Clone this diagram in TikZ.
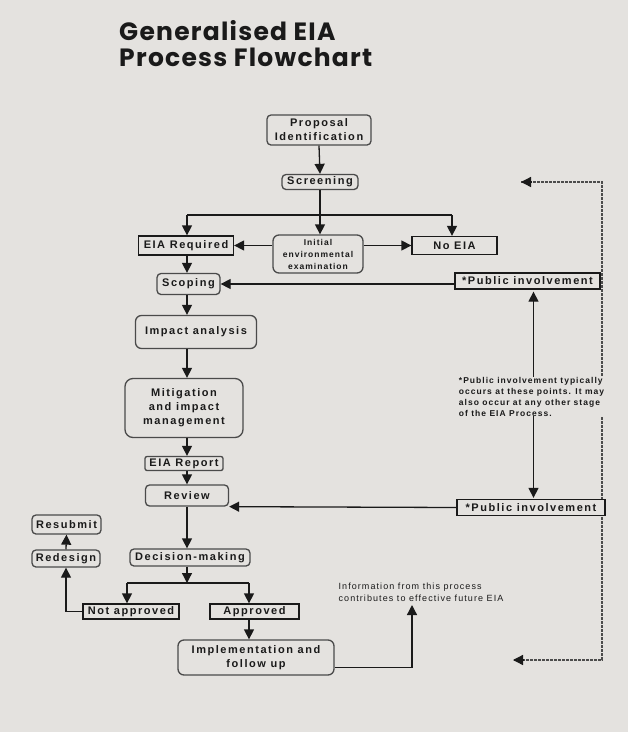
\documentclass[tikz,border=0pt]{standalone}
\usepackage{fontspec}
\usetikzlibrary{arrows.meta}
\newfontfamily\boxfont{Liberation Sans}[LetterSpace=14]
\newfontfamily\smallfont{Liberation Sans}[LetterSpace=12]
\newfontfamily\titlefont{Poppins}[LetterSpace=5]
\definecolor{bg}{HTML}{E4E2DF}
\definecolor{ink}{HTML}{1A1A1A}
\definecolor{rim}{HTML}{4A4A4A}
\tikzset{
  box/.style={draw=ink, line width=1.3pt, fill=bg, inner sep=0pt, align=center,
    font=\boxfont\bfseries\fontsize{11}{14}\selectfont, text=ink},
  rbox/.style={box, draw=rim, rounded corners=4pt},
  smalltext/.style={inner sep=0pt, align=left, text=ink, fill=bg},
  arr/.style={-{Triangle[length=10pt,width=10pt]}, line width=1.3pt, draw=ink},
  plain/.style={line width=1.3pt, draw=ink},
  dashline/.style={line width=1.3pt, draw=black!70, dash pattern=on 3pt off 1pt},
}
\begin{document}
\begin{tikzpicture}[x=1pt,y=-1pt]
\fill[bg] (0,0) rectangle (628,732);
\useasboundingbox (0,0) rectangle (628,732);

% title
\node[anchor=north west, inner sep=0pt, align=left, text=ink,
  font=\titlefont\bfseries\fontsize{25}{26}\selectfont] (title) at (119,20)
  {Generalised EIA\\Process Flowchart};

% dashed feedback line (drawn first, nodes cover it)
\coordinate (dtop) at (602,182);
\coordinate (dbot) at (602,660);
\coordinate (dtopend) at (521,182);
\coordinate (dbotend) at (513,660);
\draw[dashline] (dtopend) -- (dtop) -- (dbot) -- (dbotend);
\draw[arr] ([xshift=11pt]dtopend) -- (dtopend);
\draw[arr] ([xshift=11pt]dbotend) -- (dbotend);

% nodes
\node[rbox, minimum width=104pt, minimum height=30pt] (prop) at (319,130) {Proposal\\Identification};
\node[rbox, minimum width=76pt, minimum height=15pt] (scr) at (320,182) {Screening};
\node[box, minimum width=95pt, minimum height=19pt] (eiareq) at (186,245.5) {EIA Required};
\node[rbox, minimum width=90pt, minimum height=38pt, rounded corners=6pt,
  font=\smallfont\bfseries\fontsize{8.5}{12}\selectfont] (init) at (318,254) {Initial\\environmental\\examination};
\node[box, minimum width=85pt, minimum height=18pt] (noeia) at (454.5,245.5) {No EIA};
\node[rbox, minimum width=63pt, minimum height=21pt] (scoping) at (188.5,284) {Scoping};
\node[box, minimum width=145pt, minimum height=16pt] (pi1) at (527.5,281) {*Public involvement};
\node[rbox, minimum width=121pt, minimum height=33pt, rounded corners=6pt] (impact) at (196,332) {Impact analysis};
\node[rbox, minimum width=118pt, minimum height=59pt, rounded corners=8pt] (mit) at (184,408) {Mitigation\\and impact\\management};
\node[rbox, minimum width=78pt, minimum height=14pt, rounded corners=2pt] (report) at (184,463.5) {EIA Report};
\node[rbox, minimum width=83pt, minimum height=21pt] (review) at (187,495.5) {Review};
\node[box, minimum width=148pt, minimum height=16pt] (pi2) at (531,507.5) {*Public involvement};
\node[smalltext, font=\smallfont\bfseries\fontsize{8.5}{11}\selectfont] (pubtext) at (531.5,396.5)
  {*Public involvement typically\\occurs at these points. It may\\also occur at any other stage\\of the EIA Process.};
\node[rbox, minimum width=120pt, minimum height=17pt] (decision) at (190,557.5) {Decision-making};
\node[box, minimum width=96pt, minimum height=15pt] (notapp) at (131,611.5) {Not approved};
\node[box, minimum width=89pt, minimum height=15pt] (app) at (254.5,611.5) {Approved};
\node[rbox, minimum width=156pt, minimum height=35pt, rounded corners=6pt] (impl) at (256,657.5) {Implementation and\\follow up};
\node[rbox, minimum width=68pt, minimum height=17pt] (redesign) at (66,558.5) {Redesign};
\node[rbox, minimum width=69pt, minimum height=19pt] (resubmit) at (66.5,524.5) {Resubmit};
\node[smalltext, font=\smallfont\fontsize{9}{12}\selectfont] (info) at (421,592.5)
  {Information from this process\\contributes to effective future EIA};

% connectors
\draw[arr] (prop.south) -- (scr.north);
\coordinate (brL) at (187,215);
\coordinate (brR) at (452,215);
\draw[plain] (brL) -- (brR);
\draw[arr] (scr.south) -- (scr.south |- init.north);
\draw[arr] (brL) -- (brL |- eiareq.north);
\draw[arr] (brR) -- (brR |- noeia.north);
\draw[arr] (init.west |- eiareq) -- (eiareq.east);
\draw[arr] (init.east |- noeia) -- (noeia.west);
\draw[arr] (eiareq.south -| brL) -- (brL |- scoping.north);
\draw[arr] (pi1.west |- scoping) -- (scoping.east);
\draw[arr] (scoping.south -| brL) -- (brL |- impact.north);
\draw[arr] (impact.south -| brL) -- (brL |- mit.north);
\draw[arr] (mit.south -| brL) -- (brL |- report.north);
\draw[arr] (report.south -| brL) -- (brL |- review.north);
\draw[arr] (pi2.west) -- (review.south east);
\coordinate (pix) at (533.5,400);
\draw[arr] (pubtext.north -| pix) -- ([yshift=-2pt]pi1.south -| pix);
\draw[arr] (pubtext.south -| pix) -- ([yshift=1pt]pi2.north -| pix);
\draw[arr] (review.south -| brL) -- (brL |- decision.north);
\coordinate (split) at (187,583);
\coordinate (splitL) at (127,583);
\coordinate (splitR) at (249,583);
\draw[arr] (decision.south -| split) -- (split);
\draw[plain] (splitL) -- (splitR);
\draw[arr] (splitL) -- (splitL |- notapp.north);
\draw[arr] (splitR) -- (splitR |- app.north);
\draw[arr] (app.south -| splitR) -- (splitR |- impl.north);
\draw[arr] (notapp.west) -| (redesign.south);
\draw[arr] (redesign.north) -- (resubmit.south);
\coordinate (infoarr) at (412,605);
\draw[arr] ([yshift=-10pt]impl.east) -| (infoarr);
\end{tikzpicture}
\end{document}
